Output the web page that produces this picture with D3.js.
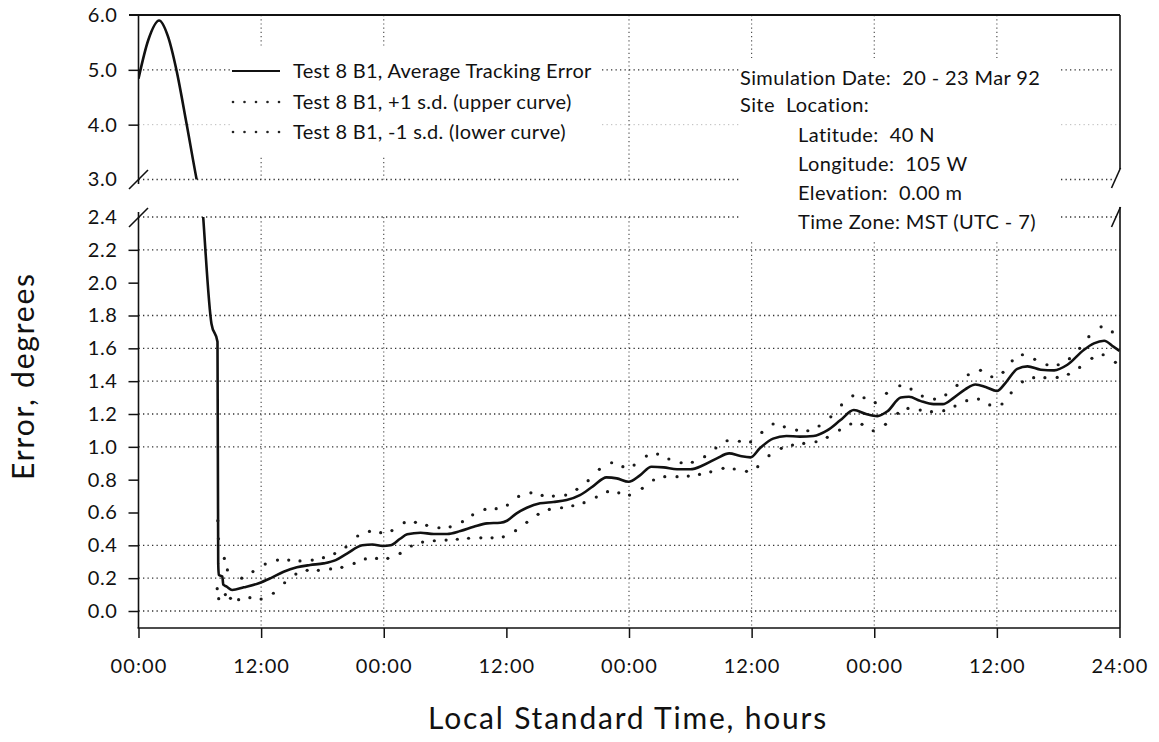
<!DOCTYPE html>
<html><head><meta charset="utf-8">
<script src="https://cdn.jsdelivr.net/npm/d3@7"></script>
<style>
html,body{margin:0;padding:0;background:#fff;}
svg text{font-family:Lato, "Open Sans", sans-serif; fill:#111;}
</style></head><body>
<svg id="chart" width="1159" height="742"></svg>
<script>
// ---- data ----
const mainHours = [0,0.95,2.02,2.9,3.72,4.70,5.68,6.33,7.14,7.73,7.80,7.86,8.2,8.3,8.6,9.16,10.3,11.77,12.9,14.2,15.5,16.8,18.1,19.3,20.4,21.9,22.9,23.9,24.65,25.6,26.3,27.6,28.9,30.2,31.5,32.8,34.1,35.4,36.06,37.0,38.0,39.3,40.6,41.9,43.2,44.5,45.8,46.8,47.96,49.1,50.2,51.4,52.7,54.0,55.3,56.6,57.8,58.9,59.9,60.8,62.1,63.4,64.7,66.05,67.4,68.7,70.0,71.2,72.3,73.3,74.6,75.4,76.5,77.8,78.7,79.8,80.9,81.9,82.9,84.0,84.85,86.0,87.0,88.3,89.6,90.9,92.5,93.5,94.5,95.4,96.0];
const mainError = [4.84,5.54,5.90,5.60,4.99,4.02,3.01,2.40,1.75,1.64,0.29,0.22,0.21,0.16,0.15,0.128,0.144,0.169,0.199,0.239,0.266,0.28,0.29,0.31,0.35,0.40,0.405,0.396,0.40,0.44,0.467,0.477,0.469,0.469,0.487,0.513,0.534,0.538,0.55,0.595,0.629,0.656,0.664,0.676,0.706,0.761,0.814,0.808,0.787,0.828,0.879,0.875,0.863,0.863,0.889,0.93,0.96,0.944,0.936,0.991,1.05,1.066,1.062,1.066,1.10,1.163,1.224,1.20,1.187,1.217,1.30,1.305,1.28,1.26,1.26,1.30,1.35,1.38,1.365,1.34,1.39,1.475,1.49,1.47,1.466,1.50,1.59,1.63,1.646,1.61,1.585];

const upperHours = [7.76,7.82,8.4,8.7,10.1,11.2,12.4,13.6,14.7,15.8,17.0,18.1,19.2,20.3,21.45,22.6,23.7,24.8,26.0,27.1,28.2,29.4,30.5,31.7,32.7,33.9,35.0,36.1,37.2,38.4,39.5,40.6,41.8,42.9,44.0,45.1,46.3,47.4,48.5,49.7,50.8,51.9,53.1,54.2,55.4,56.5,57.6,58.8,59.9,61.0,62.1,63.2,64.4,65.5,66.6,67.75,68.8,69.9,71.0,72.1,73.2,74.5,75.6,76.7,77.9,79.0,80.1,81.2,82.4,83.5,84.6,85.5,86.5,87.7,88.9,90.0,91.1,92.1,93.0,94.2,95.3];
const upperError = [0.55,0.44,0.32,0.25,0.20,0.24,0.286,0.31,0.31,0.305,0.31,0.325,0.35,0.39,0.457,0.485,0.477,0.49,0.538,0.54,0.522,0.507,0.513,0.544,0.586,0.619,0.623,0.645,0.698,0.72,0.704,0.70,0.706,0.741,0.794,0.863,0.903,0.879,0.889,0.944,0.956,0.926,0.903,0.906,0.94,0.993,1.037,1.034,1.03,1.088,1.139,1.122,1.102,1.098,1.127,1.183,1.255,1.311,1.299,1.269,1.326,1.372,1.352,1.309,1.291,1.317,1.374,1.439,1.466,1.427,1.454,1.524,1.561,1.533,1.50,1.50,1.537,1.60,1.671,1.731,1.70];

const lowerHours = [7.7,7.85,8.5,9.0,9.8,10.9,12.0,13.2,14.3,15.4,16.5,17.6,18.8,19.9,21.1,22.2,23.3,24.4,25.6,26.7,27.8,28.95,30.1,31.2,32.3,33.5,34.6,35.7,36.9,38.0,39.1,40.2,41.4,42.5,43.6,44.8,45.9,47.0,48.05,49.3,50.4,51.5,52.7,53.8,54.9,56.0,57.2,58.3,59.5,60.6,61.7,62.9,64.0,65.1,66.3,67.4,68.6,69.7,70.8,71.9,73.1,74.3,75.3,76.5,77.6,78.8,79.9,81.05,82.2,83.3,84.5,85.4,86.5,87.6,88.7,89.9,91.0,92.1,93.3,94.4,95.6];
const lowerError = [0.136,0.075,0.10,0.077,0.069,0.081,0.073,0.108,0.172,0.225,0.248,0.248,0.256,0.266,0.29,0.317,0.32,0.321,0.351,0.396,0.42,0.428,0.432,0.437,0.443,0.446,0.446,0.452,0.489,0.54,0.589,0.619,0.629,0.641,0.66,0.694,0.727,0.72,0.706,0.747,0.798,0.818,0.818,0.822,0.832,0.848,0.869,0.865,0.851,0.879,0.946,0.991,1.011,1.021,1.031,1.058,1.102,1.139,1.137,1.098,1.137,1.204,1.234,1.224,1.214,1.22,1.248,1.281,1.291,1.255,1.261,1.329,1.396,1.421,1.421,1.423,1.442,1.484,1.539,1.561,1.515];

const xTickHours = [0,12,24,36,48,60,72,84,96];
const xTickLabels = ["00:00","12:00","00:00","12:00","00:00","12:00","00:00","12:00","24:00"];
const xGridHours = [12,24,48,60,72,84];
const yTicksUpper = [3,4,5,6];
const yTicksLower = [0,0.2,0.4,0.6,0.8,1.0,1.2,1.4,1.6,1.8,2.0,2.2,2.4];
const yGridUpper = [3,5];
const yGridUpperFaint = [4];
const yGridLower = [0,0.2,0.4,1.0,1.2,1.4,1.6,1.8,2.2,2.4];
const legendLabels = ["Test 8 B1, Average Tracking Error","Test 8 B1, +1 s.d. (upper curve)","Test 8 B1, -1 s.d. (lower curve)"];
const infoLines = ["Simulation Date:  20 - 23 Mar 92","Site  Location:","Latitude:  40 N","Longitude:  105 W","Elevation:  0.00 m","Time Zone: MST (UTC - 7)"];
const xTitle = "Local Standard Time, hours";
const yTitle = "Error, degrees";

// ---- layout ----
const L = 138.5, R = 1120, TOP = 15, BOT = 628;
const svg = d3.select("#chart");
const x = d3.scaleLinear().domain([0,96]).range([L, 1119.5]);
const yU = d3.scaleLinear().domain([3,6]).range([179.5, 15]);
const yL = d3.scaleLinear().domain([0,2.4]).range([611, 217]);

const defs = svg.append("defs");
defs.append("clipPath").attr("id","clipU").append("rect").attr("x",L).attr("y",TOP).attr("width",R-L).attr("height",179.5-TOP);
defs.append("clipPath").attr("id","clipL").append("rect").attr("x",L).attr("y",217).attr("width",R-L).attr("height",BOT-217);

const gridStyle = g => g.attr("stroke","#333").attr("stroke-width",1.3).attr("stroke-dasharray","1.3,3.2");

// horizontal grid
const gg = svg.append("g");
yGridUpper.forEach(v => gridStyle(gg.append("line").attr("x1",L).attr("x2",R-7).attr("y1",yU(v)).attr("y2",yU(v))));
yGridUpperFaint.forEach(v => gg.append("line").attr("x1",L).attr("x2",R).attr("y1",yU(v)).attr("y2",yU(v))
   .attr("stroke","#bbb").attr("stroke-width",1).attr("stroke-dasharray","1.3,3.2"));
yGridLower.forEach(v => gridStyle(gg.append("line").attr("x1",L).attr("x2",R).attr("y1",yL(v)).attr("y2",yL(v))));
// vertical grid (both panels)
xGridHours.forEach(h => {
  gg.append("line").attr("x1",x(h)).attr("x2",x(h)).attr("y1",TOP).attr("y2",179.5)
    .attr("stroke","#444").attr("stroke-width",1.1).attr("stroke-dasharray","1.2,3");
  gg.append("line").attr("x1",x(h)).attr("x2",x(h)).attr("y1",217).attr("y2",BOT)
    .attr("stroke","#444").attr("stroke-width",1.1).attr("stroke-dasharray","1.2,3");
});

// white boxes for legend & info
svg.append("rect").attr("x",230).attr("y",48).attr("width",372).attr("height",109).attr("fill","#fff");
svg.append("rect").attr("x",740).attr("y",58).attr("width",318).attr("height",182).attr("fill","#fff");

// axes frame
const ax = svg.append("g").attr("stroke","#111").attr("fill","none");
ax.append("line").attr("x1",129).attr("x2",R).attr("y1",TOP).attr("y2",TOP).attr("stroke-width",2.2);
ax.append("line").attr("x1",L).attr("x2",L).attr("y1",TOP).attr("y2",184).attr("stroke-width",1.6);
ax.append("line").attr("x1",L).attr("x2",L).attr("y1",212).attr("y2",BOT).attr("stroke-width",1.6);
ax.append("line").attr("x1",R).attr("x2",R).attr("y1",TOP).attr("y2",169).attr("stroke-width",1.6);
ax.append("line").attr("x1",R).attr("x2",R).attr("y1",207).attr("y2",BOT).attr("stroke-width",1.6);
ax.append("line").attr("x1",L-1).attr("x2",R).attr("y1",BOT).attr("y2",BOT).attr("stroke-width",1.6);
// break marks
[[129,189,148,170],[129,227,148,208],[1111.5,188,1120.5,168],[1111.5,227,1120.5,207]].forEach(b =>
  ax.append("line").attr("x1",b[0]).attr("y1",b[1]).attr("x2",b[2]).attr("y2",b[3]).attr("stroke-width",1.6));

// y axes
const fmt = d3.format(".1f");
function styleAxis(g, fs, ls){
  g.select(".domain").remove();
  g.selectAll(".tick line").attr("stroke","#111").attr("stroke-width",1.5);
  g.selectAll(".tick text").attr("font-size",fs).attr("fill","#111")
    .style("font-family","Lato, sans-serif").style("letter-spacing",ls+"px");
}
const gyU = svg.append("g").attr("transform",`translate(${L},0)`)
  .call(d3.axisLeft(yU).tickValues(yTicksUpper).tickFormat(fmt).tickSize(10).tickPadding(11));
styleAxis(gyU, 20, 0.6);
gyU.selectAll(".tick").filter(d => d===3 || d===6).select("line").remove();
const gyL = svg.append("g").attr("transform",`translate(${L},0)`)
  .call(d3.axisLeft(yL).tickValues(yTicksLower).tickFormat(fmt).tickSize(10).tickPadding(11));
styleAxis(gyL, 20, 0.6);
gyL.selectAll(".tick").filter(d => d===2.4).select("line").remove();

// x axis
const gx = svg.append("g").attr("transform",`translate(0,${BOT})`)
  .call(d3.axisBottom(x).tickValues(xTickHours).tickFormat((d,i)=>xTickLabels[i]).tickSize(10).tickPadding(21));
styleAxis(gx, 20, 1.1);

// titles
svg.append("text").attr("x",628).attr("y",729).attr("text-anchor","middle").attr("font-size",30)
  .style("letter-spacing","1.8px").text(xTitle);
svg.append("text").attr("transform","translate(34,376) rotate(-90)").attr("text-anchor","middle").attr("font-size",30)
  .style("letter-spacing","1.8px").text(yTitle);

// data
const lineU = d3.line().x((d,i)=>x(mainHours[i])).y(d=>yU(d)).curve(d3.curveMonotoneX);
const lineL = d3.line().x((d,i)=>x(mainHours[i])).y(d=>yL(d)).curve(d3.curveMonotoneX);
svg.append("path").datum(mainError).attr("clip-path","url(#clipU)").attr("d",lineU)
  .attr("fill","none").attr("stroke","#111").attr("stroke-width",2.6);
svg.append("path").datum(mainError).attr("clip-path","url(#clipL)").attr("d",lineL)
  .attr("fill","none").attr("stroke","#111").attr("stroke-width",2.6);

const dots = svg.append("g").attr("fill","#1a1a1a");
dots.selectAll("circle.u").data(upperError).join("circle").attr("class","u")
  .attr("cx",(d,i)=>x(upperHours[i])).attr("cy",d=>yL(d)).attr("r",1.6);
dots.selectAll("circle.l").data(lowerError).join("circle").attr("class","l")
  .attr("cx",(d,i)=>x(lowerHours[i])).attr("cy",d=>yL(d)).attr("r",1.6);

// legend
const lg = svg.append("g");
const legY = [71,102,132];
lg.append("line").attr("x1",232).attr("x2",280).attr("y1",legY[0]).attr("y2",legY[0]).attr("stroke","#111").attr("stroke-width",2.2);
[1,2].forEach(k => d3.range(5).forEach(j =>
  lg.append("circle").attr("cx",233+j*11.5).attr("cy",legY[k]).attr("r",1.3).attr("fill","#222")));
legendLabels.forEach((t,k) => lg.append("text").attr("x",293).attr("y",legY[k]).attr("dy","0.35em")
  .attr("font-size",20).style("letter-spacing","0.3px").text(t));

// info
const infoX = [740,740,798,798,798,798];
const infoY = [78,105,135,164,193,222];
infoLines.forEach((t,k) => svg.append("text").attr("x",infoX[k]).attr("y",infoY[k]).attr("dy","0.35em")
  .attr("font-size",20).style("letter-spacing","0.4px").style("white-space","pre").attr("xml:space","preserve").text(t));
</script>
</body></html>
